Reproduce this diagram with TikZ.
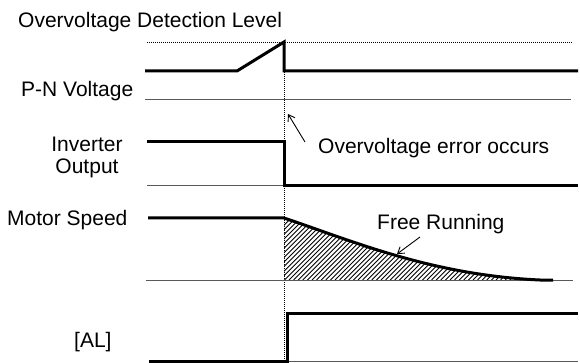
\documentclass[tikz,border=0pt]{standalone}
\usepackage{fontspec}
\setmainfont{Liberation Sans}
\usetikzlibrary{arrows.meta}
\begin{document}
\begin{tikzpicture}[x=1pt,y=-1pt,
  trace/.style={line width=3pt, line join=miter},
  base/.style={line width=1pt, black!65},
  guide/.style={line width=0.9pt, dash pattern=on 1pt off 1pt},
  hatchline/.style={line width=0.9pt},
  lbl/.style={inner sep=0pt, font=\fontsize{21}{22}\selectfont},
  pointer/.style={line width=0.9pt, -{Straight Barb[length=6pt,width=8pt]}}]
\useasboundingbox (0,0) rectangle (580,363);
% guides
\draw[guide] (147,42) -- (573,42);
\draw[guide] (284,42) -- (284,363);
% baselines
\draw[base] (145,100) -- (571,100);
\draw[base] (147,186) -- (284,186);
\draw[base] (287,361) -- (578,361);
% hatch (lines rising to the right)
\begin{scope}
  \clip (284,218) .. controls (350,240) and (430,275) .. (540,280) -- (284,280) -- cycle;
  \foreach \k in {0,...,70} {
    \draw[hatchline] (220+4.6*\k,280) -- (290+4.6*\k,210);
  }
\end{scope}
\draw[base] (146,280) -- (573,280);
% traces
\draw[trace] (145,71) -- (237,71) -- (284,42) -- (284,71) -- (578,71);
\draw[trace] (147,142) -- (284,142) -- (284,186) -- (578,186);
\draw[trace] (148,218) -- (284,218) .. controls (350,240) and (430,275) .. (540,280) -- (553,280);
\draw[trace] (149,361) -- (287,361) -- (287,313) -- (578,313);
% labels
\node[lbl, anchor=west] (ovdl) at (18,22.5) {Overvoltage Detection Level};
\node[lbl, anchor=west] (pn) at (21,91) {P-N Voltage};
\node[lbl, align=center] (inv) at (87,157) {Inverter\\Output};
\node[lbl, anchor=west] (ms) at (7,220.5) {Motor Speed};
\node[lbl, anchor=west] (al) at (74,342.5) {[AL]};
\node[lbl, anchor=west] (err) at (318,148.5) {Overvoltage error occurs};
\node[lbl, anchor=west] (fr) at (377,224) {Free Running};
% pointers
\coordinate (errtail) at (305,142);
\coordinate (errtip) at (288,114);
\coordinate (frtail) at (420,237);
\coordinate (frtip) at (397,254);
\draw[pointer] (errtail) -- (errtip);
\draw[pointer] (frtail) -- (frtip);
\end{tikzpicture}
\end{document}
